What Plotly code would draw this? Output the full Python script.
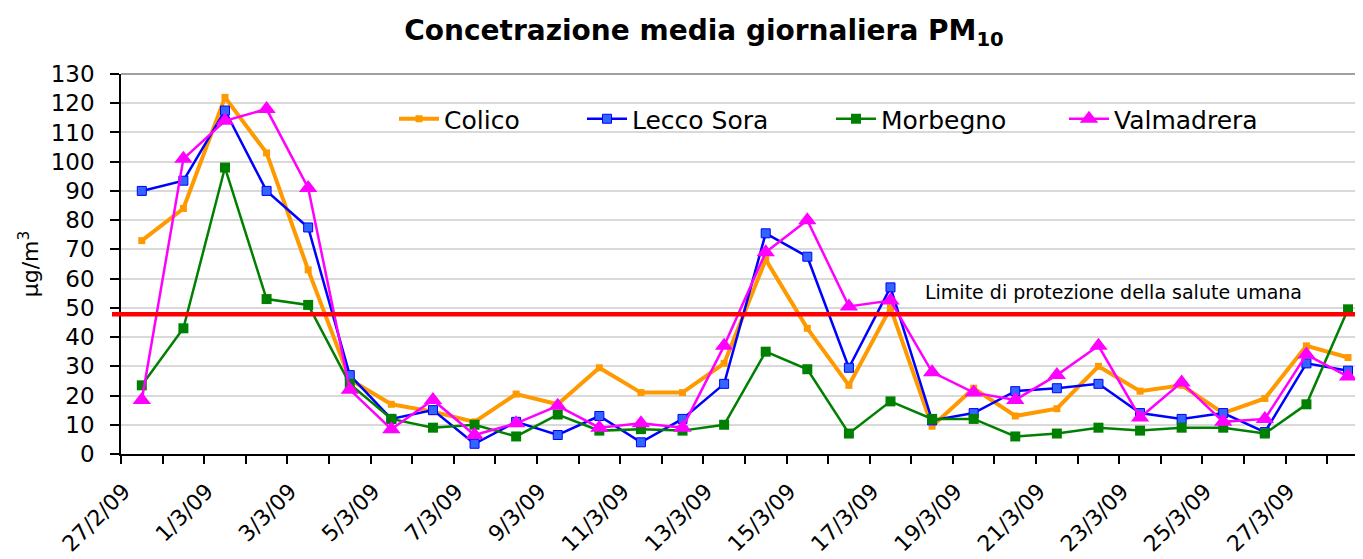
import plotly.graph_objects as go

# ---- data ----
DATES = ["27/2/09", "28/2/09", "1/3/09", "2/3/09", "3/3/09", "4/3/09", "5/3/09", "6/3/09",
         "7/3/09", "8/3/09", "9/3/09", "10/3/09", "11/3/09", "12/3/09", "13/3/09", "14/3/09",
         "15/3/09", "16/3/09", "17/3/09", "18/3/09", "19/3/09", "20/3/09", "21/3/09", "22/3/09",
         "23/3/09", "24/3/09", "25/3/09", "26/3/09", "27/3/09", "28/3/09"]

COLICO = [73, 84, 122, 103, 63, 25.5, 17, 14.5, 11, 20.5, 17, 29.5, 21, 21, 31, 66.5,
          43, 23.5, 50, 9.5, 22.5, 13, 15.5, 30, 21.5, 23.5, 14, 19, 37, 33]
LECCO_SORA = [90, 93.5, 117.5, 90, 77.5, 27, 12, 15, 3.5, 11, 6.5, 13, 4, 12, 24, 75.5,
              67.5, 29.5, 57, 11.5, 14, 21.5, 22.5, 24, 14, 12, 14, 7.5, 31, 28.5]
MORBEGNO = [23.5, 43, 98, 53, 51, 24, 12, 9, 10, 6, 13.5, 8, 8.5, 8, 10, 35,
            29, 7, 18, 12, 12, 6, 7, 9, 8, 9, 9, 7, 17, 49.5]
VALMADRERA = [18.5, 101, 114, 118, 91, 22, 8.5, 18.5, 6.5, 10.5, 16.5, 9, 10.5, 9, 37, 69,
              80, 50.5, 52.5, 28, 21, 18.5, 27, 37, 12.5, 24.5, 11, 12, 34, 26.5]

LIMIT = 47.8
LIMIT_LABEL = "Limite di protezione della salute umana"

TITLE = "Concetrazione media giornaliera PM<sub>10</sub>"
Y_TITLE = "\u00b5g/m<sup>3</sup>"

FONT = "DejaVu Sans"

idx = list(range(len(DATES)))
tick_idx = idx[::2]
tick_txt = DATES[::2]

fig = go.Figure()

series = [
    ("Colico", COLICO, dict(color="#FF9900", width=4), dict(symbol="square", size=7, color="#FF9900"), "legend"),
    ("Lecco Sora", LECCO_SORA, dict(color="#0000FF", width=2.5),
     dict(symbol="square", size=9, color="#3366FF", line=dict(color="#0000FF", width=1)), "legend2"),
    ("Morbegno", MORBEGNO, dict(color="#008000", width=2.5), dict(symbol="square", size=10, color="#008000"), "legend3"),
    ("Valmadrera", VALMADRERA, dict(color="#FF00FF", width=2.5),
     dict(symbol="triangle-up", size=16, color="#FF00FF"), "legend4"),
]
for name, vals, line, marker, leg in series:
    fig.add_trace(go.Scatter(x=idx, y=vals, name=name, mode="lines+markers",
                             line=line, marker=marker, legend=leg, cliponaxis=False))

# page has an 8px body margin: figure is drawn at (8, 8)
OFF = 8
PAGE_W, PAGE_H = 1363, 559
W, H = PAGE_W - OFF, PAGE_H - OFF
PL, PT, PB = 121, 74, 454          # plot area in page pixels
ML, MR, MT = PL - OFF, 0, PT - OFF
MB = H - (PB - OFF)
pw = PAGE_W - PL
ph = PB - PT

def px_x(X):
    return (X - PL) / pw

def px_y(Y):
    return (PB - Y) / ph

leg_common = dict(orientation="h", bgcolor="rgba(0,0,0,0)", font=dict(family=FONT, size=25, color="#000"),
                  yanchor="middle", xanchor="left", itemwidth=40)
fig.update_layout(
    legend=dict(x=px_x(394), y=px_y(119), **leg_common),
    legend2=dict(x=px_x(582), y=px_y(119), **leg_common),
    legend3=dict(x=px_x(831), y=px_y(119), **leg_common),
    legend4=dict(x=px_x(1064), y=px_y(119), **leg_common),
)

fig.update_layout(
    width=W, height=H, autosize=False,
    margin=dict(l=ML, r=MR, t=MT, b=MB, pad=0),
    paper_bgcolor="white", plot_bgcolor="white",
    font=dict(family=FONT, color="#000"),
    title=dict(text=TITLE, x=(704 - OFF) / W, xanchor="center", y=1 - (30 - OFF) / H, yanchor="middle",
               font=dict(family=FONT, size=28, color="#000", weight="bold")),
    showlegend=True,
)

fig.update_xaxes(
    range=[-0.5, 29.36], tickmode="array", tickvals=tick_idx, ticktext=tick_txt,
    tickangle=-45, ticks="", showgrid=False, zeroline=False,
    showline=True, linecolor="#000", linewidth=1.5,
    tickfont=dict(family=FONT, size=22, color="#000"),
    ticklabelstandoff=14, ticklabelshift=-18,
    minor=dict(tickmode="array", tickvals=[i - 0.5 for i in idx] + [len(idx) - 0.5],
               ticks="outside", ticklen=8, tickwidth=1.5, tickcolor="#000", showgrid=False),
)
fig.update_yaxes(
    range=[0, 130], dtick=10, tick0=0, ticks="outside", ticklen=9, tickwidth=1.5, tickcolor="#000",
    showline=True, linecolor="#000", linewidth=1.5,
    showgrid=True, gridcolor="#d9d9d9", gridwidth=1.5, zeroline=False,
    tickfont=dict(family=FONT, size=23, color="#000"),
    ticklabelstandoff=11,
    title=dict(text=Y_TITLE, font=dict(family=FONT, size=22, color="#000"), standoff=6),
)

# top border of plot area
fig.add_shape(type="line", xref="paper", yref="paper", x0=0, x1=1, y0=1, y1=1,
              line=dict(color="#808080", width=1.5), layer="above")
# legend white box
fig.add_shape(type="rect", xref="paper", yref="paper", x0=px_x(365), x1=px_x(1282),
              y0=px_y(143), y1=px_y(94), fillcolor="white", line=dict(width=0), layer="between")
# limit line
fig.add_shape(type="line", xref="paper", yref="y", x0=px_x(112), x1=1, y0=LIMIT, y1=LIMIT,
              line=dict(color="#FF0000", width=4.5), layer="above")
fig.add_annotation(x=px_x(1113), xref="paper", y=LIMIT + 7.5, yref="y", text=LIMIT_LABEL,
                   showarrow=False, font=dict(family=FONT, size=19, color="#000"),
                   xanchor="center", yanchor="middle")

fig.write_html("out.html")
